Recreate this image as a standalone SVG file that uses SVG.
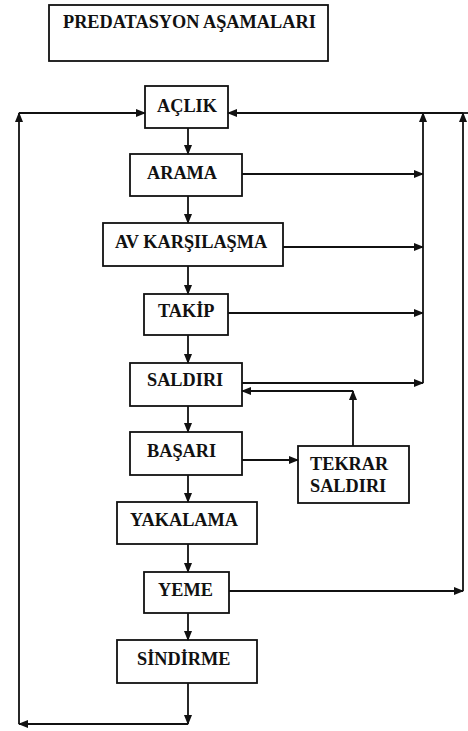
<svg xmlns="http://www.w3.org/2000/svg" width="468" height="731" viewBox="0 0 468 731">
<style>
.box{fill:#fff;stroke:#111;stroke-width:1.8}
.t{font-family:"Liberation Serif","Times New Roman",serif;font-weight:bold;font-size:18.3px;fill:#111}
.c{fill:none;stroke:#111;stroke-width:1.8;marker-end:url(#ah)}
.l{fill:none;stroke:#111;stroke-width:1.8}
</style>
<defs>
<marker id="ah" markerWidth="10" markerHeight="8" refX="9" refY="4" orient="auto" markerUnits="userSpaceOnUse">
<path d="M0,0 L10,4 L0,8 Z" fill="#111"/>
</marker>
</defs>
<rect width="468" height="731" fill="#fff"/>
<g id="title"><rect class="box" x="49" y="5" width="279" height="56"/><text class="t" x="63" y="28">PREDATASYON AŞAMALARI</text></g>
<g id="aclik"><rect class="box" x="145" y="86" width="83" height="42"/><text class="t" x="157" y="112">AÇLIK</text></g>
<g id="arama"><rect class="box" x="130" y="154" width="112" height="42"/><text class="t" x="147" y="179">ARAMA</text></g>
<g id="av"><rect class="box" x="103" y="223" width="180" height="43"/><text class="t" x="115" y="248">AV KARŞILAŞMA</text></g>
<g id="takip"><rect class="box" x="144" y="294" width="84" height="41"/><text class="t" x="158" y="317">TAKİP</text></g>
<g id="saldiri"><rect class="box" x="130" y="363" width="112" height="43"/><text class="t" x="147" y="386">SALDIRI</text></g>
<g id="basari"><rect class="box" x="130" y="432" width="112" height="43"/><text class="t" x="147" y="457">BAŞARI</text></g>
<g id="tekrar"><rect class="box" x="298" y="446" width="111" height="57"/><text class="t" x="310" y="470">TEKRAR</text><text class="t" x="310" y="492">SALDIRI</text></g>
<g id="yakalama"><rect class="box" x="117" y="502" width="140" height="42"/><text class="t" x="130" y="526">YAKALAMA</text></g>
<g id="yeme"><rect class="box" x="144" y="572" width="85" height="41"/><text class="t" x="158" y="596">YEME</text></g>
<g id="sindirme"><rect class="box" x="117" y="640" width="140" height="43"/><text class="t" x="137" y="665">SİNDİRME</text></g>
<g id="connectors">
<path class="c" d="M188,128 V154"/>
<path class="c" d="M188,196 V223"/>
<path class="c" d="M188,266 V294"/>
<path class="c" d="M188,335 V363"/>
<path class="c" d="M188,406 V432"/>
<path class="c" d="M188,475 V502"/>
<path class="c" d="M188,544 V572"/>
<path class="c" d="M188,613 V640"/>
<path class="c" d="M188,683 V724"/>
<path class="c" d="M188,724 H19"/>
<path class="c" d="M19,724 V113"/>
<path class="c" d="M19,113 H145"/>
<path class="c" d="M242,174 H423"/>
<path class="c" d="M283,247 H423"/>
<path class="c" d="M228,313 H423"/>
<path class="c" d="M242,383 H423"/>
<path class="c" d="M423,383 V113"/>
<path class="c" d="M229,591 H463"/>
<path class="c" d="M463,591 V113"/>
<path class="l" d="M463,113 H468"/>
<path class="c" d="M463,113 H228"/>
<path class="c" d="M242,460 H298"/>
<path class="c" d="M353,446 V391"/>
<path class="c" d="M353,391 H242"/>
</g>
</svg>
